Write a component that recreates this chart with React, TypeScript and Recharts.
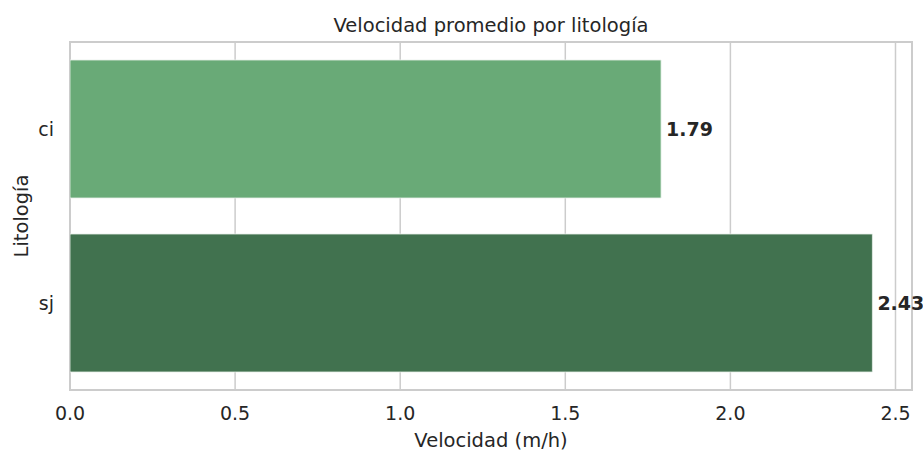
import { Bar, BarChart, CartesianGrid, Cell, LabelList, ReferenceArea, XAxis, YAxis } from "recharts";

const categories = ["ci", "sj"];
const velocities = [1.79, 2.43];
const barColors = ["#69aa77", "#41724f"];
const xTicks = [0, 0.5, 1, 1.5, 2, 2.5];
const X_MAX = 2.55;

const data = categories.map((name, i) => ({ name, value: velocities[i] }));

const FONT = "'DejaVu Sans', sans-serif";
const TEXT = "#262626";
const GRID = "#cccccc";

export default function App() {
  return (
    <div style={{ position: "absolute", left: 0, top: 0, width: 923, height: 451, background: "#fff", fontFamily: FONT }}>
      <div
        style={{
          position: "absolute",
          left: 70,
          width: 842,
          top: 14,
          textAlign: "center",
          fontSize: 19.5,
          color: TEXT,
          lineHeight: "24px",
        }}
      >
        Velocidad promedio por litología
      </div>
      <BarChart
        width={923}
        height={451}
        data={data}
        layout="vertical"
        margin={{ top: 42, right: 11, bottom: 0, left: 0 }}
        style={{ fontFamily: FONT }}
      >
        <CartesianGrid horizontal={false} stroke={GRID} strokeWidth={1.5} />
        <XAxis
          type="number"
          domain={[0, X_MAX]}
          ticks={xTicks}
          allowDataOverflow
          height={61}
          tickLine={false}
          axisLine={false}
          tickSize={0}
          tickMargin={17}
          tickFormatter={(v: number) => v.toFixed(1)}
          tick={{ fontSize: 19, fill: TEXT }}
          label={{ value: "Velocidad (m/h)", position: "insideBottom", offset: 4, fontSize: 19.5, fill: TEXT }}
        />
        <YAxis
          type="category"
          dataKey="name"
          width={70}
          tickLine={false}
          axisLine={false}
          tickSize={0}
          tickMargin={16}
          tick={{ fontSize: 19, fill: TEXT }}
          label={{ value: "Litología", angle: -90, position: "insideLeft", offset: 26, dx: -5, fontSize: 19.5, fill: TEXT, style: { textAnchor: "middle" } }}
        />
        <Bar dataKey="value" barSize={138} isAnimationActive={false} stroke="#e8f0ea" strokeWidth={0.8}>
          {data.map((d, i) => (
            <Cell key={d.name} fill={barColors[i]} />
          ))}
          <LabelList
            dataKey="value"
            position="right"
            offset={5}
            formatter={(v: any) => Number(v).toFixed(2)}
            style={{ fontSize: 19, fontWeight: "bold", fill: TEXT }}
          />
        </Bar>
        <ReferenceArea x1={0} x2={X_MAX} ifOverflow="visible" fill="none" stroke={GRID} strokeWidth={2} />
      </BarChart>
    </div>
  );
}
